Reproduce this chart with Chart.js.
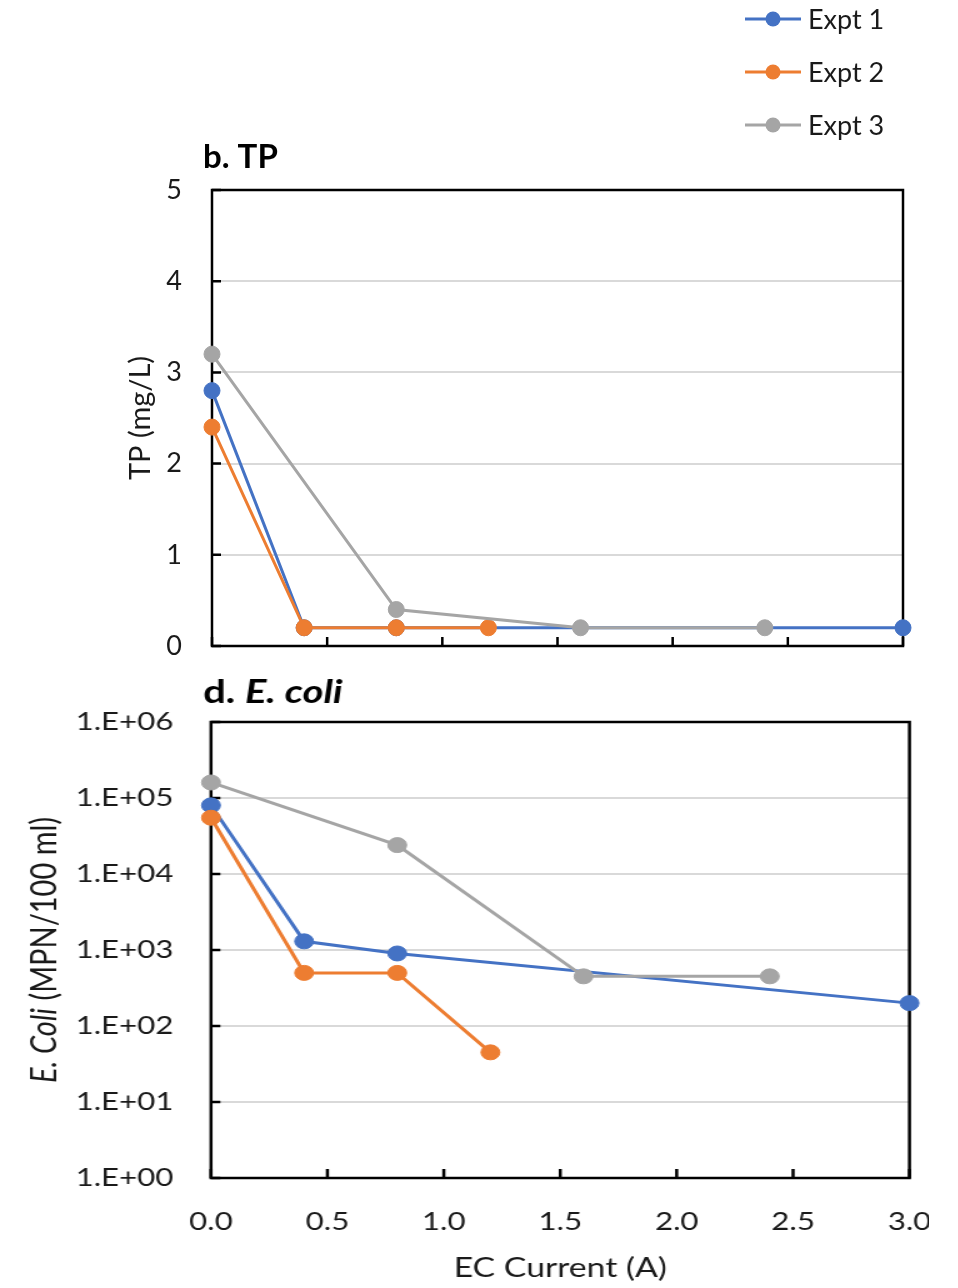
<!DOCTYPE html>
<html>
<head>
<meta charset="utf-8">
<script src="https://cdn.jsdelivr.net/npm/chart.js@4.4.1/dist/chart.umd.min.js"></script>
<style>
  body { margin: 0; background: #fff; }
  #panelTP { position: absolute; left: 0; top: 0; width: 958px; height: 660px; }
  /* el panel de E. coli va estirado en horizontal y recortado a la derecha */
  #panelEcoli { position: absolute; left: 0; top: 660px; width: 929px; height: 628px; overflow: hidden; }
  #panelEcoli .estirado { position: absolute; left: 0; top: 0; width: 767px; height: 628px; transform: scaleX(1.25); transform-origin: 0 0; }
</style>
</head>
<body>
<div id="panelTP"><canvas id="chartTP"></canvas></div>
<div id="panelEcoli"><div class="estirado"><canvas id="chartEcoli"></canvas></div></div>
<script>
const seriesNames = ['Expt 1', 'Expt 2', 'Expt 3'];
const seriesColors = ['#4472C4', '#ED7D31', '#A5A5A5'];

// corriente EC (A) de cada experimento
const currentExpt1 = [0, 0.4, 0.8, 3.0];
const currentExpt2 = [0, 0.4, 0.8, 1.2];
const currentExpt3 = [0, 0.8, 1.6, 2.4];

// fósforo total (mg/L)
const tpExpt1 = [2.8, 0.2, 0.2, 0.2];
const tpExpt2 = [2.4, 0.2, 0.2, 0.2];
const tpExpt3 = [3.2, 0.4, 0.2, 0.2];

// E. coli (MPN/100 ml)
const ecoliExpt1 = [80000, 1300, 900, 200];
const ecoliExpt2 = [55000, 500, 500, 45];
const ecoliExpt3 = [160000, 24000, 450, 450];

const currentTicks = [0, 0.5, 1, 1.5, 2, 2.5, 3];
const currentTickLabels = ['0.0', '0.5', '1.0', '1.5', '2.0', '2.5', '3.0'];
const tpTicks = [0, 1, 2, 3, 4, 5];
const tpTickLabels = ['0', '1', '2', '3', '4', '5'];
const ecoliTicks = [1, 10, 100, 1000, 10000, 100000, 1000000];
const ecoliTickLabels = ['1.E+00', '1.E+01', '1.E+02', '1.E+03', '1.E+04', '1.E+05', '1.E+06'];

const FUENTE = 'Lato';
const currents = [currentExpt1, currentExpt2, currentExpt3];

function armarDatasets(valores, radio) {
  return seriesNames.map((nombre, i) => ({
    label: nombre,
    data: currents[i].map((x, j) => ({ x: x, y: valores[i][j] })),
    borderColor: seriesColors[i],
    backgroundColor: seriesColors[i],
    pointBackgroundColor: seriesColors[i],
    pointBorderColor: seriesColors[i],
    pointBorderWidth: 1,
    pointRadius: radio,
    borderWidth: 3,
    clip: false,
    order: 3 - i
  }));
}

function fijarTicks(valores) {
  return scale => { scale.ticks = valores.map(v => ({ value: v })); };
}

// la separación etiqueta-eje va en una marca invisible: ticks.padding
// también engorda el margen del área y la descuadra
function separacion(px) {
  return { drawOnChartArea: false, drawTicks: true, tickLength: px, tickColor: 'rgba(0,0,0,0)' };
}

// escribe trozos con estilos distintos seguidos; devuelve el ancho total
function textoMixto(ctx, partes, size, x, y, medirSolo) {
  let cx = x;
  partes.forEach(([txt, estilo]) => {
    ctx.font = `${estilo} ${size}px ${FUENTE}`;
    if (!medirSolo) ctx.fillText(txt, cx, y);
    cx += ctx.measureText(txt).width;
  });
  return cx - x;
}

// marco negro alrededor del área y marcas hacia dentro
const marco = {
  id: 'marco',
  beforeDatasetsDraw(chart, args, opts) {
    const { ctx, chartArea: a, scales } = chart;
    ctx.save();
    ctx.strokeStyle = '#000';
    ctx.lineWidth = opts.lineWidth;
    ctx.beginPath();
    scales.x.ticks.forEach(t => {
      const px = scales.x.getPixelForValue(t.value);
      ctx.moveTo(px, a.bottom);
      ctx.lineTo(px, a.bottom - opts.tickX);
    });
    scales.y.ticks.forEach(t => {
      const py = scales.y.getPixelForValue(t.value);
      ctx.moveTo(a.left, py);
      ctx.lineTo(a.left + opts.tickY, py);
    });
    ctx.stroke();
    ctx.strokeRect(a.left, a.top, a.width, a.height);
    ctx.restore();
  }
};

// título del panel y título del eje Y (con cursivas)
const rotulos = {
  id: 'rotulos',
  afterDraw(chart, args, opts) {
    const { ctx, chartArea: a } = chart;
    ctx.save();
    ctx.fillStyle = '#000';
    ctx.textBaseline = 'alphabetic';
    ctx.textAlign = 'left';
    textoMixto(ctx, opts.titulo, opts.tituloSize, opts.tituloX, opts.tituloY);
    ctx.fillStyle = '#1a1a1a';
    ctx.textBaseline = 'middle';
    ctx.translate(opts.ejeX, (a.top + a.bottom) / 2);
    ctx.rotate(-Math.PI / 2);
    const ancho = textoMixto(ctx, opts.eje, opts.ejeSize, 0, 0, true);
    textoMixto(ctx, opts.eje, opts.ejeSize, -ancho / 2, 0);
    ctx.restore();
  }
};

// leyenda vertical arriba a la derecha
const leyenda = {
  id: 'leyenda',
  afterDraw(chart, args, opts) {
    const ctx = chart.ctx;
    ctx.save();
    chart.data.datasets.forEach((ds, i) => {
      const y = opts.y + i * opts.paso;
      ctx.strokeStyle = ds.borderColor;
      ctx.lineWidth = 3;
      ctx.beginPath();
      ctx.moveTo(opts.x, y);
      ctx.lineTo(opts.x + 56, y);
      ctx.stroke();
      ctx.fillStyle = ds.borderColor;
      ctx.beginPath();
      ctx.arc(opts.x + 28, y, 7.5, 0, Math.PI * 2);
      ctx.fill();
      ctx.fillStyle = '#1a1a1a';
      ctx.font = `27px ${FUENTE}`;
      ctx.textBaseline = 'middle';
      ctx.fillText(ds.label, opts.x + 63, y + 1);
    });
    ctx.restore();
  }
};

new Chart(document.getElementById('chartTP'), {
  type: 'line',
  data: { datasets: armarDatasets([tpExpt1, tpExpt2, tpExpt3], 8) },
  options: {
    responsive: true,
    maintainAspectRatio: false,
    animation: false,
    layout: { padding: { left: 0, right: 55, top: 190, bottom: 0 } },
    scales: {
      x: {
        type: 'linear', min: 0, max: 3,
        afterBuildTicks: fijarTicks(currentTicks),
        afterFit: s => { s.height = 14; },
        ticks: { display: false },
        grid: { display: false },
        border: { display: false }
      },
      y: {
        min: 0, max: 5,
        afterBuildTicks: fijarTicks(tpTicks),
        afterFit: s => { s.width = 212; },
        ticks: {
          padding: 0, color: '#1a1a1a',
          // interlineado corto para que la etiqueta "0" no empuje el área hacia arriba
          font: { family: FUENTE, size: 27, lineHeight: 0.9 },
          callback: (v, i) => tpTickLabels[i]
        },
        grid: Object.assign({ color: '#d9d9d9', lineWidth: 2 }, separacion(30), { drawOnChartArea: true }),
        border: { display: false }
      }
    },
    plugins: {
      legend: { display: false },
      tooltip: { enabled: false },
      marco: { lineWidth: 2.5, tickX: 9, tickY: 9 },
      rotulos: {
        titulo: [['b. TP', 'bold']], tituloSize: 33, tituloX: 203, tituloY: 168,
        eje: [['TP (mg/L)', 'normal']], ejeSize: 29, ejeX: 141
      },
      leyenda: { x: 745, y: 19, paso: 53 }
    }
  },
  plugins: [marco, rotulos, leyenda]
});

new Chart(document.getElementById('chartEcoli'), {
  type: 'line',
  data: { datasets: armarDatasets([ecoliExpt1, ecoliExpt2, ecoliExpt3], 7.5) },
  options: {
    responsive: true,
    maintainAspectRatio: false,
    animation: false,
    layout: { padding: { left: 0, right: 39.4, top: 62, bottom: 0 } },
    scales: {
      x: {
        type: 'linear', min: 0, max: 3,
        afterBuildTicks: fijarTicks(currentTicks),
        afterFit: s => { s.height = 110; },
        ticks: {
          padding: 0, color: '#1a1a1a', maxRotation: 0,
          font: { family: FUENTE, size: 25 },
          callback: (v, i) => currentTickLabels[i]
        },
        title: {
          display: true, text: 'EC Current (A)', color: '#1a1a1a',
          font: { family: FUENTE, size: 27 },
          padding: { top: 0, bottom: 4 }
        },
        grid: separacion(29),
        border: { display: false }
      },
      y: {
        type: 'logarithmic', min: 1, max: 1000000,
        afterBuildTicks: fijarTicks(ecoliTicks),
        afterFit: s => { s.width = 168.8; },
        ticks: {
          padding: 0, color: '#1a1a1a',
          font: { family: FUENTE, size: 25 },
          callback: (v, i) => ecoliTickLabels[i]
        },
        grid: Object.assign({ color: '#d9d9d9', lineWidth: 2 }, separacion(30), { drawOnChartArea: true }),
        border: { display: false }
      }
    },
    plugins: {
      legend: { display: false },
      tooltip: { enabled: false },
      marco: { lineWidth: 2.5, tickX: 9, tickY: 7.5 },
      rotulos: {
        titulo: [['d. ', 'bold'], ['E. coli', 'italic bold']], tituloSize: 32, tituloX: 162.4, tituloY: 43,
        eje: [['E. Coli', 'italic'], [' (MPN/100 ml)', 'normal']], ejeSize: 29, ejeX: 36
      }
    }
  },
  plugins: [marco, rotulos]
});
</script>
</body>
</html>
